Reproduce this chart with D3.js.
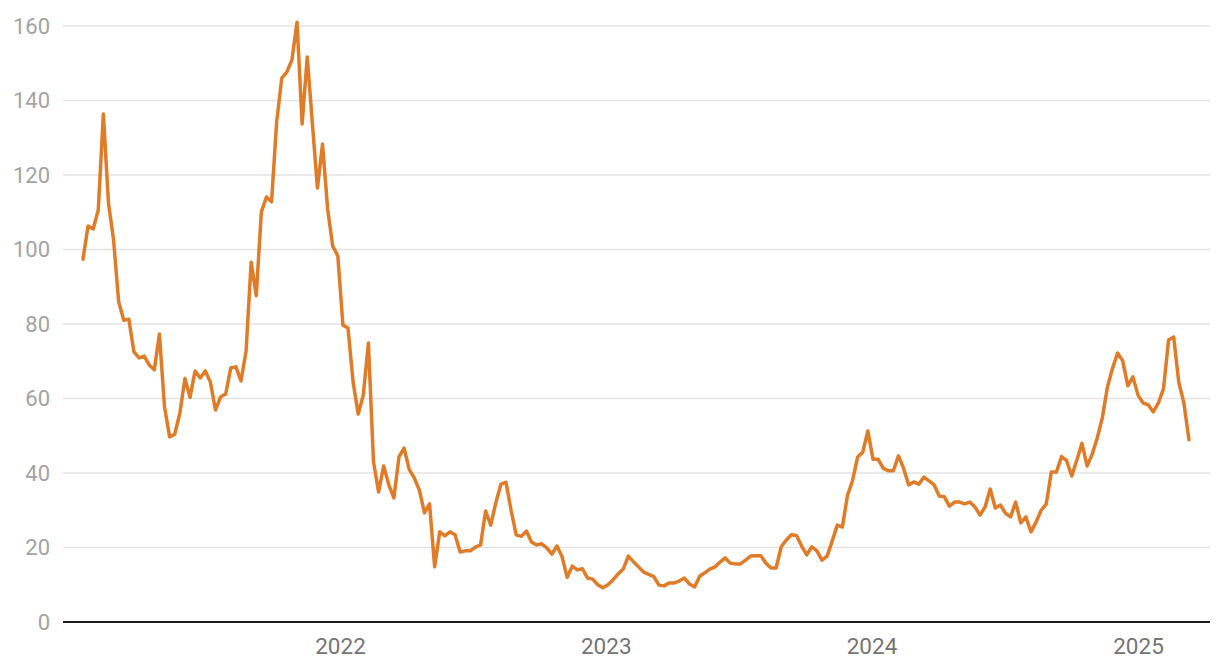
<!DOCTYPE html>
<html>
<head>
<meta charset="utf-8">
<script src="https://cdn.jsdelivr.net/npm/d3@7"></script>
<style>
  html, body { margin: 0; padding: 0; background: #fff; }
  svg { display: block; font-family: Roboto, "Noto Sans", sans-serif; }
</style>
</head>
<body>
<svg id="chart" width="1220" height="672"></svg>
<script>
// ---- data ----
const startDate = "2021-01-13";           // first weekly observation
const values = [
  97.4, 106.3, 105.5, 110.6, 136.4, 112.5, 102.6, 86, 81, 81.3,
  72.5, 70.9, 71.4, 69, 67.7, 77.3, 57.7, 49.7, 50.4, 56,
  65.4, 60.3, 67.4, 65.5, 67.4, 64.4, 56.9, 60.4, 61.2, 68.2,
  68.5, 64.7, 72.7, 96.6, 87.6, 110.1, 114.1, 112.8, 134.2, 146,
  147.6, 150.9, 161, 133.7, 151.7, 134, 116.5, 128.3, 110.9, 100.9,
  98.3, 79.7, 78.9, 64.4, 55.8, 60.9, 74.9, 43, 34.9, 41.9,
  36.8, 33.3, 44.3, 46.7, 41, 38.7, 35.4, 29.3, 31.7, 14.8,
  24.2, 23.1, 24.2, 23.4, 18.8, 19.1, 19.1, 20.1, 20.7, 29.8,
  26, 32, 37, 37.5, 30, 23.4, 23, 24.4, 21.5, 20.7,
  21, 19.9, 18.2, 20.4, 17.5, 12, 15, 14, 14.3, 11.8,
  11.5, 10, 9.2, 10, 11.3, 12.9, 14.2, 17.7, 16.2, 14.8,
  13.4, 12.8, 12.2, 9.9, 9.7, 10.5, 10.5, 11, 11.8, 10.2,
  9.4, 12.3, 13.2, 14.2, 14.8, 16.1, 17.2, 15.8, 15.6, 15.6,
  16.6, 17.7, 17.8, 17.8, 15.8, 14.5, 14.5, 20.2, 22, 23.4,
  23.2, 20.4, 18, 20.2, 19.1, 16.6, 17.7, 21.7, 26, 25.5,
  34, 38, 44.3, 45.6, 51.3, 43.7, 43.7, 41.3, 40.6, 40.6,
  44.6, 41.3, 36.8, 37.6, 37, 38.9, 37.9, 36.8, 33.8, 33.6,
  31.1, 32.2, 32.2, 31.7, 32.2, 30.9, 28.7, 30.9, 35.7, 30.6,
  31.4, 29.2, 28.2, 32.2, 26.6, 28.2, 24.2, 26.8, 30, 31.7,
  40.3, 40.3, 44.4, 43.3, 39.2, 43.5, 48, 41.9, 45, 49.4,
  54.8, 63.1, 68.1, 72.2, 70.1, 63.4, 65.8, 60.9, 58.8, 58.3,
  56.4, 58.8, 62.6, 75.7, 76.5, 64.4, 58.8, 48.9
];
const yTicks = [0, 20, 40, 60, 80, 100, 120, 140, 160];
const xTickLabels = ["2022", "2023", "2024", "2025"];

// ---- build ----
const parse = d3.utcParse("%Y-%m-%d");
const t0 = parse(startDate);
const dates = values.map((v, i) => d3.utcDay.offset(t0, 7 * i));
const data = values.map((v, i) => ({ date: dates[i], value: v }));
const xTickDates = xTickLabels.map(s => parse(s + "-01-01"));

const svg = d3.select("#chart");
const left = 63, right = 1210;

const x = d3.scaleUtc()
  .domain([parse("2022-01-01"), parse("2025-01-01")])
  .range([340, 1138]);
const y = d3.scaleLinear().domain([0, 160]).range([622, 26]);

// gridlines
svg.append("g").selectAll("line")
  .data(yTicks.filter(d => d !== 0))
  .join("line")
  .attr("x1", left).attr("x2", right)
  .attr("y1", d => y(d)).attr("y2", d => y(d))
  .attr("stroke", "#e3e3e3").attr("stroke-width", 1.5);

// y labels
const yAxis = d3.axisLeft(y).tickValues(yTicks).tickSize(0).tickPadding(0);
const gy = svg.append("g").attr("transform", "translate(50,0)").call(yAxis);
gy.select(".domain").remove();
gy.selectAll("text")
  .attr("font-size", 22).attr("fill", "#a3a3a3")
  .attr("font-family", "Roboto, sans-serif");

// x labels
const xAxis = d3.axisBottom(x).tickValues(xTickDates)
  .tickFormat((d, i) => xTickLabels[i]).tickSize(0).tickPadding(0);
const gx = svg.append("g").attr("transform", "translate(0,638)").call(xAxis);
gx.select(".domain").remove();
gx.selectAll("text")
  .attr("font-size", 22.5).attr("fill", "#747474")
  .attr("dy", "0.71em")
  .attr("font-family", "Roboto, sans-serif");

// line
const line = d3.line().x(d => x(d.date)).y(d => y(d.value));
svg.append("path").datum(data)
  .attr("d", line)
  .attr("fill", "none")
  .attr("stroke", "#e07b27")
  .attr("stroke-width", 3.5)
  .attr("stroke-linejoin", "round")
  .attr("stroke-linecap", "round");

// baseline
svg.append("line")
  .attr("x1", left).attr("x2", right)
  .attr("y1", y(0)).attr("y2", y(0))
  .attr("stroke", "#1a1a1a").attr("stroke-width", 2);
</script>
</body>
</html>
